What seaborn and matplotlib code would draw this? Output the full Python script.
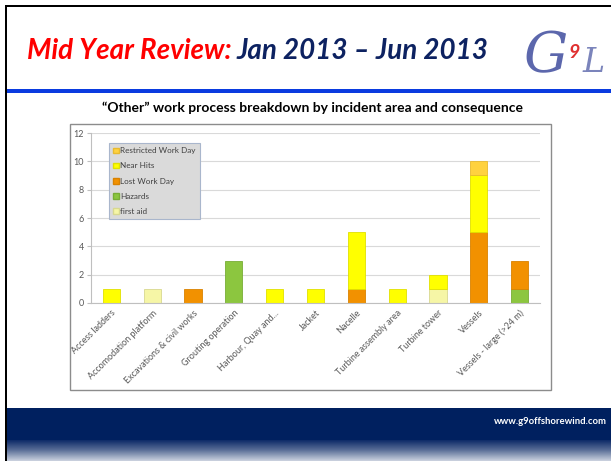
import numpy as np
import pandas as pd
import matplotlib
matplotlib.use("Agg")
import matplotlib.pyplot as plt
import seaborn as sns
from matplotlib.patches import Rectangle, Patch
from matplotlib.colors import LinearSegmentedColormap

# --- data --------------------------------------------------------------------
AREAS = [
    "Access ladders", "Accomodation platform", "Excavations & civil works",
    "Grouting operation", "Harbour, Quay and...", "Jacket", "Nacelle",
    "Turbine assembly area", "Turbine tower", "Vessels", "Vessels - large (>24 m)",
]
FIRST_AID = [0, 1, 0, 0, 0, 0, 0, 0, 1, 0, 0]
HAZARDS = [0, 0, 0, 3, 0, 0, 0, 0, 0, 0, 1]
LOST_WORK_DAY = [0, 0, 1, 0, 0, 0, 1, 0, 0, 5, 2]
NEAR_HITS = [1, 0, 0, 0, 1, 1, 4, 1, 1, 4, 0]
RESTRICTED_WORK_DAY = [0, 0, 0, 0, 0, 0, 0, 0, 0, 1, 0]

# stacking order, bottom to top
CONSEQUENCES = ["first aid", "Hazards", "Lost Work Day", "Near Hits", "Restricted Work Day"]
SERIES = [FIRST_AID, HAZARDS, LOST_WORK_DAY, NEAR_HITS, RESTRICTED_WORK_DAY]
FILL = {
    "first aid": "#F6F6A6",
    "Hazards": "#8CC63F",
    "Lost Work Day": "#F29100",
    "Near Hits": "#FFFF00",
    "Restricted Work Day": "#FFD23F",
}
EDGE = {
    "first aid": "#D8D890",
    "Hazards": "#78AD35",
    "Lost Work Day": "#D98200",
    "Near Hits": "#E0E000",
    "Restricted Work Day": "#E8BA30",
}

TITLE_RED = "Mid Year Review:"
TITLE_NAVY = "Jan 2013 \u2013 Jun 2013"
CHART_TITLE = "\u201cOther\u201d work process breakdown by incident area and consequence"
URL = "www.g9offshorewind.com"

sns.set_style("white")
plt.rcParams["font.family"] = ["Lato", "DejaVu Sans"]

W, H = 611, 461
fig = plt.figure(figsize=(W / 100, H / 100), dpi=100)
fig.patch.set_facecolor("white")
renderer = fig.canvas.get_renderer()


def fx(px):
    return px / W


def fy(py):
    return 1 - py / H


# --- slide furniture ---------------------------------------------------------
fig.add_artist(Rectangle((fx(5), 0), fx(2), fy(5), transform=fig.transFigure,
                         color="black", lw=0))
fig.add_artist(Rectangle((fx(5), fy(7)), 1, 2 / H, transform=fig.transFigure,
                         color="black", lw=0))
fig.add_artist(Rectangle((fx(7), fy(93)), 1, 4 / H, transform=fig.transFigure,
                         color="#0A3BE0", lw=0))
fig.add_artist(Rectangle((fx(7), fy(440)), 1, 32 / H, transform=fig.transFigure,
                         color="#00205F", lw=0))

ax_grad = fig.add_axes([fx(7), 0, 1 - fx(7), 21 / H])
grad_cmap = LinearSegmentedColormap.from_list("footer", ["#062463", "#5A6E97", "#CBD2DF"])
ax_grad.imshow(np.linspace(0, 1, 64).reshape(-1, 1), cmap=grad_cmap, aspect="auto")
ax_grad.axis("off")

fig.text(fx(607), fy(421), URL, ha="right", va="center", color="white",
         fontsize=6.8, fontweight="bold")

# headline, two colours side by side
red = fig.text(fx(27), fy(59), TITLE_RED, ha="left", va="baseline", color="#FF0000",
               fontsize=20, fontweight="bold", style="italic")
bb = red.get_window_extent(renderer)
fig.text((bb.x1 + 5) / W, fy(59), TITLE_NAVY, ha="left", va="baseline",
         color="#0D2261", fontsize=20, fontweight="bold", style="italic")

# rough stand-in for the G9 logo
fig.text(fx(524), fy(72), "G", ha="left", va="baseline", color="#3F4C9E",
         fontsize=40, style="italic", family="DejaVu Serif", alpha=0.85)
fig.text(fx(569), fy(58), "9", ha="left", va="baseline", color="#E03030",
         fontsize=14, style="italic", fontweight="bold")
fig.text(fx(583), fy(72), "L", ha="left", va="baseline", color="#5A66AA",
         fontsize=24, style="italic", family="DejaVu Serif", alpha=0.8)

# chart frame and title
fig.add_artist(Rectangle((fx(70), fy(390)), 481 / W, 266 / H, transform=fig.transFigure,
                         fill=False, edgecolor="#8C8C8C", lw=1))
fig.text(fx(312), fy(108), CHART_TITLE, ha="center", va="center",
         fontsize=10, fontweight="bold", color="black")

# --- stacked bar chart -------------------------------------------------------
rows = []
for area_idx, area in enumerate(AREAS):
    base = 0
    for cons, values in zip(CONSEQUENCES, SERIES):
        rows.append({"area": area, "consequence": cons,
                     "count": values[area_idx], "bottom": base})
        base += values[area_idx]
df = pd.DataFrame(rows)

ax = fig.add_axes([fx(91), fy(303), 449 / W, 170 / H])
for cons in CONSEQUENCES:
    sub = df[(df["consequence"] == cons) & (df["count"] > 0)]
    sns.barplot(data=sub, x="area", y="count", order=AREAS,
                bottom=sub["bottom"].to_numpy(), color=FILL[cons], saturation=1,
                width=0.42, edgecolor=EDGE[cons], linewidth=0.6,
                errorbar=None, ax=ax)

ax.set_ylim(0, 12)
ax.set_yticks(range(0, 13, 2))
ax.set_xlim(-0.5, len(AREAS) - 0.5)
ax.yaxis.grid(True, color="#D9D9D9", lw=0.8)
ax.set_axisbelow(True)
ax.set_xlabel("")
ax.set_ylabel("")
for side in ["top", "right"]:
    ax.spines[side].set_visible(False)
for side in ["left", "bottom"]:
    ax.spines[side].set_color("#BFBFBF")
    ax.spines[side].set_linewidth(0.8)

ax.set_xticks(range(len(AREAS)))
ax.set_xticklabels(AREAS, rotation=45, ha="right", rotation_mode="anchor",
                   fontsize=6.5, color="#595959")
ax.set_xticks(np.arange(len(AREAS) + 1) - 0.5, minor=True)
ax.tick_params(axis="x", which="major", length=0, pad=4)
ax.tick_params(axis="x", which="minor", length=3, color="#BFBFBF", width=0.8)
ax.tick_params(axis="y", length=3, color="#BFBFBF", width=0.8, labelsize=6.5,
               labelcolor="#595959", pad=2, left=True)

handles = [Patch(facecolor=FILL[c], edgecolor=EDGE[c], label=c) for c in reversed(CONSEQUENCES)]
leg = ax.legend(handles=handles, loc="upper left", bbox_to_anchor=(0.04, 0.94),
                borderaxespad=0, fontsize=5.9, handlelength=0.7, handleheight=0.7,
                handletextpad=0.2, labelspacing=1.0, frameon=True, fancybox=False,
                framealpha=1, borderpad=0.5)
leg.get_frame().set_facecolor("#DADADA")
leg.get_frame().set_edgecolor("#A9B6CC")
leg.get_frame().set_linewidth(0.8)
for t in leg.get_texts():
    t.set_color("#404040")

fig.savefig("out.png", dpi=100)
